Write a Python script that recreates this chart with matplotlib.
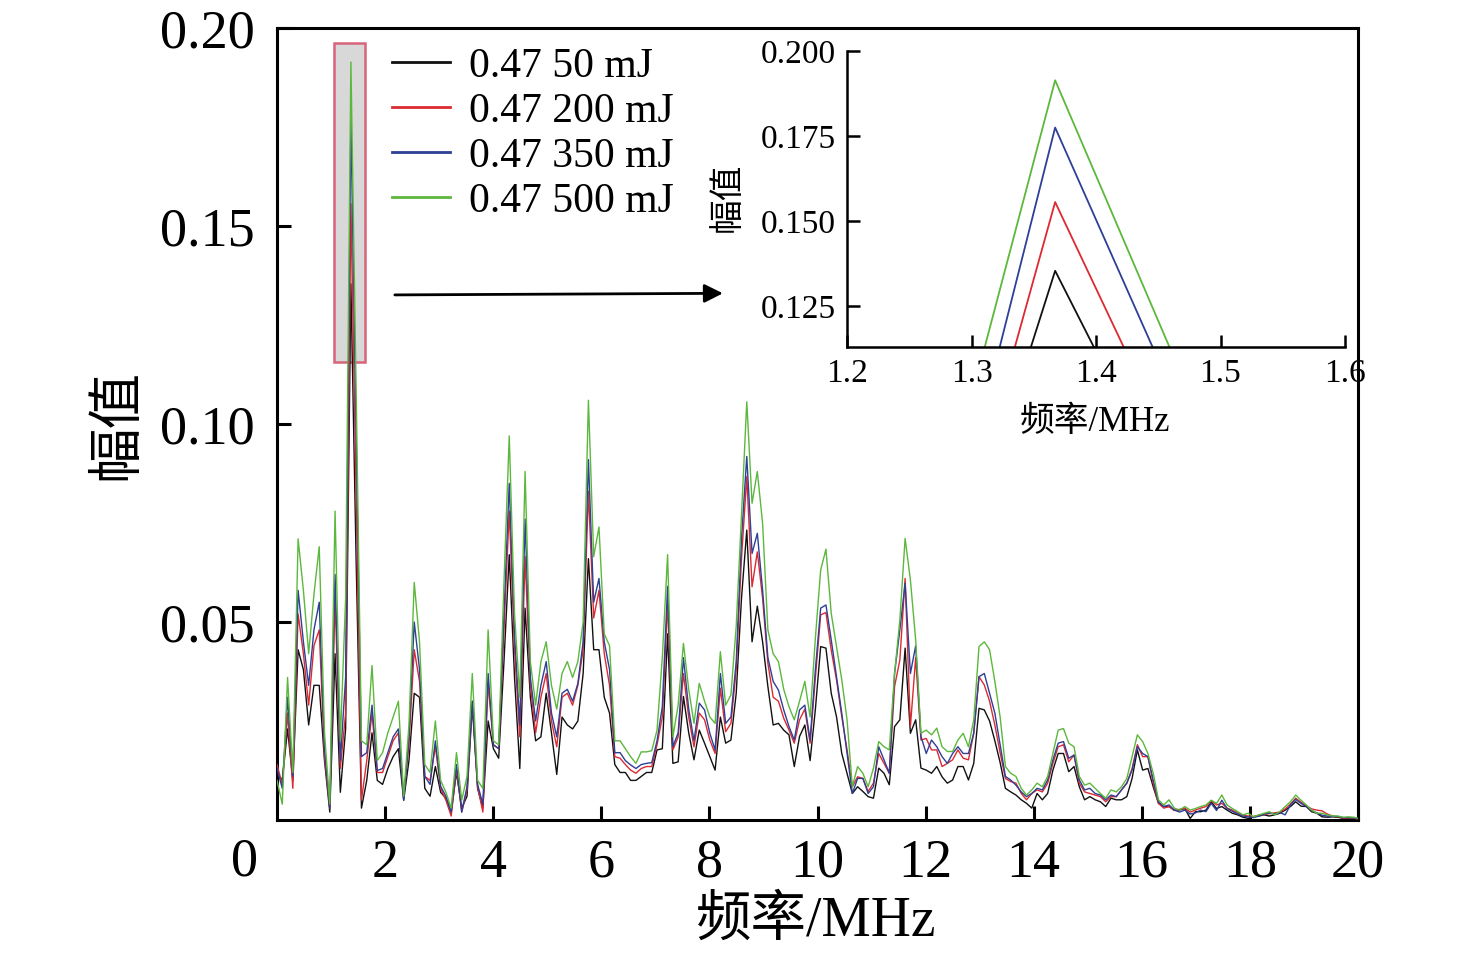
import numpy as np
import matplotlib
matplotlib.use("Agg")
import matplotlib.pyplot as plt
from matplotlib.patches import Rectangle

plt.rcParams['font.family'] = ['Liberation Serif', 'Noto Sans CJK SC']

freq_step = 0.09765625  # MHz per FFT bin

black = [
0.012, 0.010, 0.023, 0.010, 0.043, 0.038, 0.024, 0.034, 0.034, 0.015,
0.002, 0.042, 0.007, 0.023, 0.1354, 0.065, 0.003, 0.010, 0.022, 0.010,
0.009, 0.013, 0.016, 0.018, 0.005, 0.015, 0.032, 0.031, 0.008, 0.006,
0.0135, 0.007, 0.0055, 0.002, 0.012, 0.003, 0.006, 0.029, 0.008, 0.003,
0.025, 0.018, 0.0156, 0.040, 0.067, 0.036, 0.013, 0.0535, 0.031, 0.020,
0.021, 0.032, 0.022, 0.0115, 0.026, 0.024, 0.023, 0.025, 0.037, 0.066,
0.043, 0.043, 0.031, 0.027, 0.014, 0.012, 0.012, 0.010, 0.010, 0.011,
0.012, 0.012, 0.0177, 0.018, 0.047, 0.0143, 0.0147, 0.0312, 0.022, 0.0152,
0.0227, 0.0194, 0.016, 0.0126, 0.026, 0.0194, 0.0202, 0.032, 0.056, 0.0732,
0.045, 0.054, 0.045, 0.0337, 0.024, 0.0244, 0.0227, 0.0215, 0.0135, 0.0211,
0.024, 0.015, 0.028, 0.0438, 0.0434, 0.032, 0.0261, 0.0168, 0.0118, 0.0067,
0.0084, 0.0072, 0.0059, 0.0055, 0.0131, 0.0118, 0.0089, 0.0236, 0.0253, 0.0434,
0.0219, 0.0253, 0.0131, 0.0126, 0.0118, 0.0135, 0.0109, 0.0093, 0.0101, 0.0135,
0.0135, 0.0101, 0.0143, 0.0282, 0.0278, 0.025, 0.020, 0.0145, 0.008, 0.0071,
0.0063, 0.0051, 0.0042, 0.003, 0.0067, 0.0051, 0.0067, 0.0126, 0.0168, 0.0168,
0.0122, 0.0135, 0.0084, 0.0051, 0.0059, 0.0051, 0.0046, 0.0034, 0.0055, 0.0051,
0.0051, 0.0059, 0.0105, 0.0177, 0.0126, 0.013, 0.0084, 0.0042, 0.0034, 0.0034,
0.0025, 0.0025, 0.0029, 0.0004, 0.0021, 0.0021, 0.0025, 0.0046, 0.0029, 0.0034,
0.0025, 0.0017, 0.0013, 0.0007, 0.0004, 0.0008, 0.001, 0.0013, 0.001, 0.0013,
0.0017, 0.0025, 0.0034, 0.0046, 0.0035, 0.0034, 0.0021, 0.0017, 0.0008, 0.0007,
0.0008, 0.0007, 0.0004, 0.0004, 0.0004, 0.0003]

red = [
0.014, 0.009, 0.027, 0.008, 0.052, 0.042, 0.029, 0.044, 0.048, 0.016,
0.003, 0.056, 0.013, 0.027, 0.1556, 0.080, 0.005, 0.015, 0.027, 0.012,
0.012, 0.016, 0.020, 0.022, 0.006, 0.019, 0.043, 0.035, 0.011, 0.010,
0.0186, 0.008, 0.005, 0.001, 0.013, 0.002, 0.0076, 0.030, 0.0085, 0.002,
0.0345, 0.019, 0.018, 0.048, 0.078, 0.043, 0.021, 0.0665, 0.034, 0.022,
0.031, 0.037, 0.025, 0.0185, 0.031, 0.032, 0.029, 0.034, 0.043, 0.083,
0.051, 0.058, 0.042, 0.034, 0.016, 0.0156, 0.014, 0.0126, 0.0118, 0.013,
0.0135, 0.0135, 0.019, 0.026, 0.0547, 0.0177, 0.021, 0.037, 0.026, 0.0185,
0.027, 0.0253, 0.0202, 0.0168, 0.0333, 0.0223, 0.0244, 0.038, 0.066, 0.0867,
0.0589, 0.0677, 0.056, 0.0396, 0.031, 0.030, 0.0257, 0.0227, 0.0194, 0.0253,
0.028, 0.0194, 0.036, 0.0518, 0.0524, 0.0429, 0.0354, 0.0261, 0.0177, 0.0084,
0.0109, 0.0105, 0.0072, 0.0093, 0.0168, 0.0143, 0.0118, 0.0337, 0.0404, 0.061,
0.0236, 0.041, 0.0202, 0.0206, 0.0177, 0.0177, 0.0135, 0.0143, 0.0152, 0.0177,
0.0156, 0.0152, 0.0219, 0.0362, 0.0341, 0.030, 0.024, 0.017, 0.0105, 0.0097,
0.0093, 0.0067, 0.0051, 0.0067, 0.0076, 0.0071, 0.0093, 0.0143, 0.0185, 0.019,
0.0147, 0.0164, 0.0093, 0.0071, 0.0067, 0.0063, 0.0059, 0.0046, 0.0059, 0.0059,
0.0076, 0.0093, 0.013, 0.019, 0.016, 0.016, 0.0093, 0.0042, 0.003, 0.0034,
0.0024, 0.0027, 0.003, 0.002, 0.0025, 0.003, 0.0034, 0.0049, 0.0038, 0.0042,
0.003, 0.0025, 0.0018, 0.0012, 0.001, 0.0009, 0.0012, 0.0014, 0.0016, 0.0018,
0.002, 0.0028, 0.004, 0.0055, 0.0045, 0.0036, 0.0028, 0.0025, 0.0023, 0.0015,
0.001, 0.0008, 0.0005, 0.0005, 0.0004, 0.0003]

blue = [
0.013, 0.008, 0.031, 0.011, 0.058, 0.045, 0.034, 0.048, 0.055, 0.018,
0.003, 0.062, 0.015, 0.036, 0.1775, 0.097, 0.016, 0.017, 0.029, 0.0125,
0.013, 0.017, 0.021, 0.023, 0.005, 0.021, 0.050, 0.038, 0.011, 0.009,
0.020, 0.0085, 0.006, 0.002, 0.014, 0.002, 0.0084, 0.030, 0.009, 0.004,
0.037, 0.019, 0.018, 0.052, 0.085, 0.047, 0.024, 0.076, 0.036, 0.025,
0.034, 0.040, 0.027, 0.021, 0.032, 0.033, 0.030, 0.0345, 0.045, 0.091,
0.055, 0.061, 0.045, 0.038, 0.017, 0.017, 0.015, 0.0139, 0.013, 0.014,
0.0143, 0.0145, 0.020, 0.0286, 0.059, 0.0185, 0.022, 0.041, 0.028, 0.020,
0.0295, 0.0278, 0.0219, 0.0177, 0.037, 0.0244, 0.026, 0.040, 0.071, 0.0918,
0.0673, 0.0724, 0.058, 0.041, 0.035, 0.0328, 0.0278, 0.0236, 0.0202, 0.0278,
0.029, 0.0202, 0.038, 0.0535, 0.0543, 0.0455, 0.0362, 0.0269, 0.0168, 0.0067,
0.0105, 0.0105, 0.0067, 0.0084, 0.0185, 0.0152, 0.0118, 0.037, 0.048, 0.0598,
0.037, 0.044, 0.0211, 0.0168, 0.0202, 0.0185, 0.016, 0.0143, 0.0168, 0.0185,
0.0168, 0.0168, 0.0219, 0.0362, 0.037, 0.032, 0.027, 0.019, 0.011, 0.0101,
0.0088, 0.0071, 0.0059, 0.0067, 0.008, 0.0076, 0.0101, 0.0152, 0.0194, 0.0198,
0.0156, 0.0164, 0.0101, 0.0076, 0.008, 0.0067, 0.0063, 0.0051, 0.0063, 0.0059,
0.0076, 0.0093, 0.0126, 0.0185, 0.0168, 0.016, 0.0101, 0.0046, 0.0034, 0.0038,
0.0025, 0.002, 0.0025, 0.0015, 0.0018, 0.0025, 0.0021, 0.0042, 0.0024, 0.005,
0.0029, 0.0022, 0.0015, 0.001, 0.0008, 0.0006, 0.001, 0.0015, 0.0018, 0.0015,
0.0019, 0.0013, 0.0038, 0.0052, 0.0042, 0.0034, 0.0024, 0.0018, 0.0012, 0.001,
0.0009, 0.0009, 0.0006, 0.0006, 0.0005, 0.0003]

green = [
0.010, 0.004, 0.036, 0.012, 0.071, 0.058, 0.042, 0.057, 0.069, 0.022,
0.004, 0.078, 0.020, 0.056, 0.1914, 0.108, 0.020, 0.019, 0.039, 0.015,
0.017, 0.022, 0.026, 0.030, 0.006, 0.024, 0.060, 0.045, 0.014, 0.012,
0.025, 0.010, 0.007, 0.003, 0.017, 0.005, 0.011, 0.037, 0.010, 0.008,
0.048, 0.020, 0.019, 0.060, 0.097, 0.052, 0.031, 0.088, 0.040, 0.029,
0.040, 0.045, 0.034, 0.028, 0.037, 0.040, 0.036, 0.040, 0.050, 0.106,
0.0665, 0.074, 0.047, 0.044, 0.020, 0.020, 0.018, 0.016, 0.0143, 0.0172,
0.0172, 0.0175, 0.0227, 0.041, 0.067, 0.021, 0.029, 0.0446, 0.033, 0.0244,
0.0345, 0.030, 0.026, 0.0244, 0.0425, 0.029, 0.0316, 0.049, 0.077, 0.1056,
0.080, 0.088, 0.0749, 0.048, 0.042, 0.040, 0.033, 0.0286, 0.0253, 0.030,
0.035, 0.026, 0.046, 0.0631, 0.0684, 0.0522, 0.0438, 0.0354, 0.0253, 0.0084,
0.0135, 0.0118, 0.0084, 0.0131, 0.0198, 0.0185, 0.0177, 0.037, 0.0505, 0.0711,
0.0606, 0.0455, 0.0219, 0.0227, 0.0215, 0.0232, 0.0185, 0.0173, 0.0173, 0.0202,
0.0219, 0.0185, 0.0253, 0.0438, 0.045, 0.043, 0.035, 0.026, 0.0135, 0.0118,
0.011, 0.008, 0.0063, 0.0076, 0.0093, 0.0084, 0.011, 0.0168, 0.0227, 0.0231,
0.0194, 0.0185, 0.011, 0.0088, 0.0093, 0.008, 0.0067, 0.0055, 0.0076, 0.0071,
0.0084, 0.0105, 0.016, 0.0215, 0.0198, 0.0168, 0.0118, 0.0051, 0.0038, 0.0051,
0.003, 0.0025, 0.0034, 0.0025, 0.0029, 0.0034, 0.0038, 0.005, 0.0042, 0.0063,
0.0038, 0.0029, 0.0021, 0.0013, 0.0017, 0.0008, 0.0013, 0.0017, 0.0021, 0.0013,
0.0021, 0.0034, 0.0046, 0.0063, 0.005, 0.0038, 0.0025, 0.0017, 0.0017, 0.0013,
0.001, 0.001, 0.0007, 0.0008, 0.0007, 0.0004]

labels = ["0.47 50 mJ", "0.47 200 mJ", "0.47 350 mJ", "0.47 500 mJ"]
colors = ["#111111", "#dc2a32", "#2e3f96", "#5cb83c"]
series = [black, red, blue, green]

x_ticks = [2, 4, 6, 8, 10, 12, 14, 16, 18, 20]
y_ticks = [0.05, 0.10, 0.15, 0.20]
inset_x_ticks = [1.2, 1.3, 1.4, 1.5, 1.6]
inset_y_ticks = [0.125, 0.150, 0.175, 0.200]

freq = np.arange(len(black)) * freq_step

fig = plt.figure(figsize=(14.76, 9.6), dpi=100)
ax = fig.add_axes([277/1476, 1-820/960, 1081/1476, 792/960])

for s, c, l in zip(series, colors, labels):
    ax.plot(freq, s, color=c, lw=1.0, label=l, zorder=3)

ax.set_xlim(0, 20)
ax.set_ylim(0, 0.20)
ax.set_xticks(x_ticks)
ax.set_xticklabels([str(t) for t in x_ticks])
ax.set_yticks(y_ticks)
ax.set_yticklabels([f"{t:.2f}" for t in y_ticks])
ax.tick_params(direction='in', length=10, width=2.2, labelsize=39)
ax.tick_params(axis='y', pad=16)
ax.tick_params(axis='x', pad=13)
for sp in ax.spines.values():
    sp.set_linewidth(2.2)

# highlight rectangle & arrow
rect = Rectangle((1.055, 0.1157), 0.573, 0.0805, facecolor='#d8d8d8',
                 edgecolor='#d8647a', lw=1.8, zorder=2)
ax.add_patch(rect)
ax.annotate('', xy=(8.25, 0.1330), xytext=(2.18, 0.1326),
            arrowprops=dict(arrowstyle='-|>', color='black', lw=2.0,
                            mutation_scale=28, shrinkA=0, shrinkB=0))

leg = ax.legend(loc='upper left', bbox_to_anchor=(0.106, 0.976), frameon=False,
                fontsize=30, handlelength=1.4, handletextpad=0.45,
                labelspacing=0.16, borderaxespad=0, borderpad=0)
for h in leg.get_lines():
    h.set_linewidth(2.0)

fig.text(244/1476, 1-862/960, "0", fontsize=39, ha='center', va='center')
fig.text(816/1476, 1-922/960, "频率/MHz", fontsize=40, ha='center', va='center')
fig.text(118/1476, 1-425/960, "幅值", fontsize=40, ha='center', va='center',
         rotation=90)

# inset
ax2 = fig.add_axes([847/1476, 1-347/960, 498/1476, 296/960])
for s, c in zip(series, colors):
    ax2.plot(freq, s, color=c, lw=1.3)
ax2.set_xlim(1.2, 1.6)
ax2.set_ylim(0.113, 0.200)
ax2.set_xticks(inset_x_ticks)
ax2.set_xticklabels([f"{t:.1f}" for t in inset_x_ticks])
ax2.set_yticks(inset_y_ticks)
ax2.set_yticklabels([f"{t:.3f}" for t in inset_y_ticks])
ax2.tick_params(direction='in', length=9, width=1.8, labelsize=24, pad=8)
ax2.spines['top'].set_visible(False)
ax2.spines['right'].set_visible(False)
for sp in ('left', 'bottom'):
    ax2.spines[sp].set_linewidth(1.8)
fig.text(1095/1476, 1-423/960, "频率/MHz", fontsize=25, ha='center', va='center')
fig.text(728/1476, 1-197/960, "幅值", fontsize=25, ha='center', va='center',
         rotation=90)

fig.savefig("out.png", dpi=100)
